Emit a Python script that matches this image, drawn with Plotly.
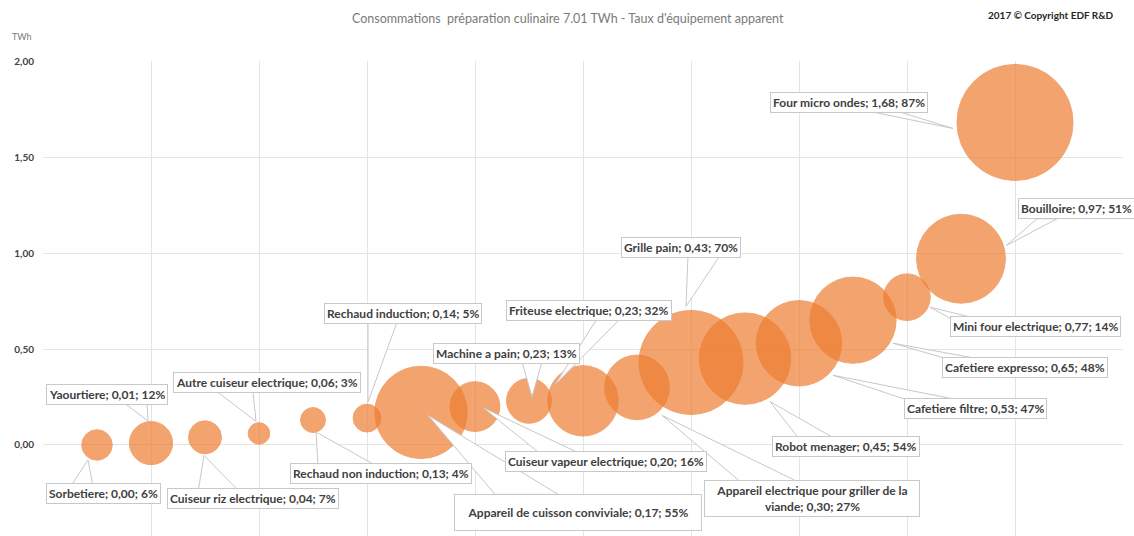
import textwrap
import plotly.graph_objects as go

# Appliances, annual consumption (TWh) and apparent equipment rate (%)
appareils = [
    "Sorbetiere", "Yaourtiere", "Cuiseur riz electrique", "Autre cuiseur electrique",
    "Rechaud non induction", "Rechaud induction", "Appareil de cuisson conviviale",
    "Cuiseur vapeur electrique", "Machine a pain", "Friteuse electrique",
    "Appareil electrique pour griller de la viande", "Grille pain", "Robot menager",
    "Cafetiere filtre", "Cafetiere expresso", "Mini four electrique", "Bouilloire",
    "Four micro ondes",
]
conso_twh = [0.00, 0.01, 0.04, 0.06, 0.13, 0.14, 0.17, 0.20, 0.23, 0.23,
             0.30, 0.43, 0.45, 0.53, 0.65, 0.77, 0.97, 1.68]
taux_equipement = [6, 12, 7, 3, 4, 5, 55, 16, 13, 32, 27, 70, 54, 47, 48, 14, 51, 87]
rang = list(range(1, len(appareils) + 1))

y_ticks = [0.0, 0.5, 1.0, 1.5, 2.0]
y_tick_labels = ["0,00", "0,50", "1,00", "1,50", "2,00"]

# Callout placement in screen pixels (y pointing down):
# label box centre relative to its bubble
box_dx = [6, -44, 48, 8, 68, 36, 157, 131, -23, 6, 175, -10, 101, 176, 172, 128, 115, -166]
box_dy = [49, -49, 61, -51, 53, -105, 100, 55, -47, -90, 111, -115, 88, 65, 47, 29, -50, -20]
# wedge base (two x offsets and one y offset) relative to the label box centre
base_x0 = [-32, 16, -55, -50, -63, -35, -83, -66, 16, 8, -72, 7, -48, -70, -80, -85, -39, 16]
base_x1 = [-10, 40, -13, -14, -6, -6, -20, -26, 36, 31, -15, 39, -13, -20, -50, -60, -19, 46]
base_y = [-8, 8, -6, 9, -8, 9, -18, -8, 8, 8, -17, 8, -9, -9, -9, -8, 10, 8]
# wedge tip relative to the bubble centre
tip_x = [-9, -3, -1, -3, 3, 1, 7, 8, 3, -28, 25, -5, 25, 34, 40, 23, 45, -62]
tip_y = [15, -22, 18, -12, 12, -16, 3, 1, -4, -16, 28, -56, 43, 32, 23, 10, -13, 6]


def fr(v):
    return f"{v:.2f}".replace(".", ",")


label_font = dict(family="Lato, 'Open Sans', sans-serif", size=12, color="#404040", weight="bold")
border = "#C8C8C8"

fig = go.Figure()
fig.add_trace(go.Scatter(
    x=rang,
    y=conso_twh,
    mode="markers",
    marker=dict(
        size=taux_equipement,
        sizemode="area",
        sizeref=0.01292,
        color="rgb(237,125,49)",
        opacity=0.7,
        line=dict(color="rgb(237,125,49)", width=1),
    ),
    hoverinfo="skip",
    showlegend=False,
))

shapes = []
annotations = []
for i, nom in enumerate(appareils):
    bx0 = box_dx[i] + base_x0[i]
    bx1 = box_dx[i] + base_x1[i]
    by = box_dy[i] + base_y[i]
    path = (f"M {bx0},{-by} L {tip_x[i]},{-tip_y[i]} "
            f"L {bx1},{-by} Z")
    shapes.append(dict(
        type="path", xref="x", yref="y",
        xsizemode="pixel", ysizemode="pixel",
        xanchor=rang[i], yanchor=conso_twh[i],
        path=path, fillcolor="white",
        line=dict(color=border, width=1), layer="above",
    ))
    texte = f"{nom}; {fr(conso_twh[i])}; {taux_equipement[i]}%"
    lignes = textwrap.wrap(texte, 42)
    ann = dict(
        x=rang[i], y=conso_twh[i], xref="x", yref="y",
        xshift=box_dx[i], yshift=-box_dy[i],
        xanchor="center", yanchor="middle",
        text="<br>".join(lignes), showarrow=False,
        font=label_font, bgcolor="white",
        bordercolor=border, borderwidth=1, borderpad=2,
        align="center",
    )
    if nom == "Appareil de cuisson conviviale":
        ann.update(width=242, height=31)
    if len(lignes) > 1:
        ann.update(width=210)
    annotations.append(ann)

# Figure texts placed in page pixels (from top-left), converted to paper fractions
W, H = 1134, 536
ML, MR, MT, MB = 43, 11, 61, 0
page_texts = [
    ("Consommations  préparation culinaire 7.01 TWh - Taux d'équipement apparent",
     568, 19, dict(family="Lato, sans-serif", size=12.5, color="#7a7a7a")),
    ("2017 © Copyright EDF R&D",
     1051, 15, dict(family="Lato, sans-serif", size=10, color="#262626", weight="bold")),
    ("TWh", 22, 36, dict(family="Lato, sans-serif", size=9, color="#7a7a7a")),
]
for texte, px, py, police in page_texts:
    annotations.append(dict(
        text=texte, showarrow=False, xref="paper", yref="paper",
        x=(px - ML) / (W - ML - MR), y=(H - py - MB) / (H - MT - MB),
        xanchor="center", yanchor="middle", font=police,
    ))

fig.update_layout(
    width=W, height=H,
    margin=dict(l=ML, r=MR, t=MT, b=MB, pad=0),
    paper_bgcolor="white", plot_bgcolor="white",
    xaxis=dict(range=[0, 20], tickvals=list(range(0, 21, 2)), showticklabels=False,
               showgrid=True, gridcolor="#E4E4E4", gridwidth=1, zeroline=False,
               showline=False, ticks=""),
    yaxis=dict(range=[-0.474, 2.0], tickvals=y_ticks, ticktext=y_tick_labels,
               showgrid=True, gridcolor="#E4E4E4", gridwidth=1, zeroline=False,
               showline=False, ticks="", ticklabelstandoff=8,
               tickfont=dict(family="Lato, sans-serif", size=10, color="#404040", weight="bold")),
    shapes=shapes,
    annotations=annotations,
)

fig.write_html("out.html")
